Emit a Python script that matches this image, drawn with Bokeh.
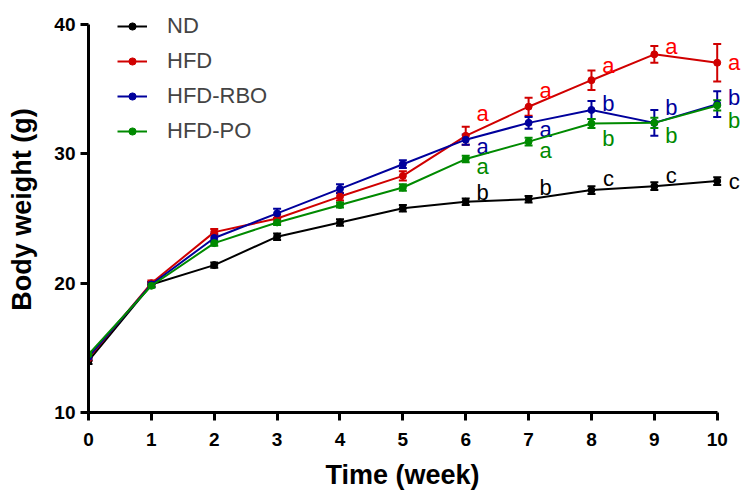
from bokeh.plotting import figure
from bokeh.models import ColumnDataSource, Whisker, TeeHead, Range1d, FixedTicker, Legend, LegendItem, Title
from bokeh.core.properties import value
from bokeh.embed import file_html
from bokeh.resources import INLINE

weeks = [0, 1, 2, 3, 4, 5, 6, 7, 8, 9, 10]

nd = [14.0, 19.9, 21.4, 23.6, 24.7, 25.8, 26.3, 26.5, 27.2, 27.5, 27.9]
nd_err = [0.25, 0.2, 0.2, 0.25, 0.25, 0.25, 0.25, 0.25, 0.3, 0.3, 0.3]

hfd = [14.2, 20.0, 23.95, 25.0, 26.7, 28.3, 31.4, 33.65, 35.7, 37.7, 37.05]
hfd_err = [0.2, 0.2, 0.25, 0.3, 0.3, 0.35, 0.7, 0.7, 0.75, 0.65, 1.45]

rbo = [14.3, 19.9, 23.5, 25.4, 27.3, 29.2, 31.1, 32.4, 33.4, 32.4, 33.85]
rbo_err = [0.2, 0.2, 0.3, 0.35, 0.35, 0.3, 0.4, 0.45, 0.7, 1.0, 1.0]

po = [14.5, 19.8, 23.1, 24.7, 26.05, 27.4, 29.6, 30.95, 32.35, 32.4, 33.75]
po_err = [0.2, 0.15, 0.2, 0.2, 0.2, 0.25, 0.25, 0.3, 0.35, 0.4, 0.4]

sig_weeks = [6, 7, 8, 9, 10]
nd_sig = ["b", "b", "c", "c", "c"]
hfd_sig = ["a", "a", "a", "a", "a"]
rbo_sig = ["a", "a", "b", "b", "b"]
po_sig = ["a", "a", "b", "b", "b"]
# vertical placement of the significance letters (data units)
nd_sig_y = [27.0, 27.4, 28.1, 28.3, 27.9]
hfd_sig_y = [33.1, 34.9, 36.8, 38.3, 37.1]
rbo_sig_y = [30.6, 31.9, 33.9, 33.6, 34.4]
po_sig_y = [29.0, 30.25, 31.2, 31.4, 32.6]

y_ticks = [10, 20, 30, 40]

FONT = "Liberation Sans"

p = figure(frame_width=657, frame_height=406, output_backend="svg", toolbar_location=None,
           x_range=Range1d(0, 10.45), y_range=Range1d(10, 41.4),
           min_border_left=88, min_border_right=5, min_border_top=6, min_border_bottom=40)
p.outline_line_color = None
p.grid.visible = False
p.background_fill_color = "white"
p.border_fill_color = "white"

for ax in (p.xaxis[0], p.yaxis[0]):
    ax.axis_line_width = 3
    ax.major_tick_line_width = 3
    ax.major_tick_out = 8
    ax.major_tick_in = 0
    ax.minor_tick_line_color = None
    ax.major_label_text_font = FONT
    ax.major_label_text_font_style = "bold"
    ax.major_label_text_font_size = "19px"
    ax.major_label_text_color = "black"
    ax.axis_label_text_font = FONT
    ax.axis_label_text_font_style = "bold"
    ax.axis_label_text_font_size = "27px"
    ax.axis_label_text_color = "black"
    ax.axis_line_color = "black"
    ax.major_tick_line_color = "black"

p.xaxis.bounds = (0, 10)
p.yaxis.bounds = (10, 40)
p.xaxis.ticker = FixedTicker(ticks=weeks)
p.yaxis.ticker = FixedTicker(ticks=y_ticks)
p.yaxis.axis_label = "Body weight (g)"
p.yaxis.axis_label_standoff = 14
p.xaxis.axis_label = None
p.xaxis.major_label_standoff = 12

series = [
    ("ND", nd, nd_err, "black", "black", nd_sig, nd_sig_y),
    ("HFD", hfd, hfd_err, "#d00000", "#ff0000", hfd_sig, hfd_sig_y),
    ("HFD-RBO", rbo, rbo_err, "#00009c", "#00009c", rbo_sig, rbo_sig_y),
    ("HFD-PO", po, po_err, "#008a00", "#008a00", po_sig, po_sig_y),
]

items = []
for name, vals, errs, col, tcol, sig, sig_y in series:
    src = ColumnDataSource(dict(x=weeks, y=vals,
                                lo=[v - e for v, e in zip(vals, errs)],
                                hi=[v + e for v, e in zip(vals, errs)]))
    w = Whisker(base="x", upper="hi", lower="lo", source=src, dimension="height",
                line_color=col, line_width=2,
                upper_head=TeeHead(size=8, line_color=col, line_width=2),
                lower_head=TeeHead(size=8, line_color=col, line_width=2))
    p.add_layout(w)
    r1 = p.line("x", "y", source=src, line_color=col, line_width=2)
    r2 = p.scatter("x", "y", source=src, size=7, fill_color=col, line_color=col)
    items.append(LegendItem(label=name, renderers=[r1, r2]))
    ssrc = ColumnDataSource(dict(x=[wk + 0.27 for wk in sig_weeks], y=sig_y, t=sig))
    p.text("x", "y", text="t", source=ssrc, text_color=tcol, text_font=value(FONT),
           text_font_size="22px", text_align="center", text_baseline="middle")

legend = Legend(items=items, location="top_left", margin=0, padding=0, spacing=0,
                glyph_width=30, glyph_height=18, label_height=35, label_standoff=20,
                label_text_font=FONT, label_text_font_size="22px",
                border_line_color=None, background_fill_alpha=0)
legend.location = (29, 406 - 4 * 35 - 2)
p.add_layout(legend, "center")

xtitle = Title(text="Time (week)", align="left", offset=237, standoff=18,
               text_font=FONT, text_font_style="bold", text_font_size="27px",
               text_color="black")
p.add_layout(xtitle, "below")

open("out.html", "w").write(file_html(p, INLINE))
